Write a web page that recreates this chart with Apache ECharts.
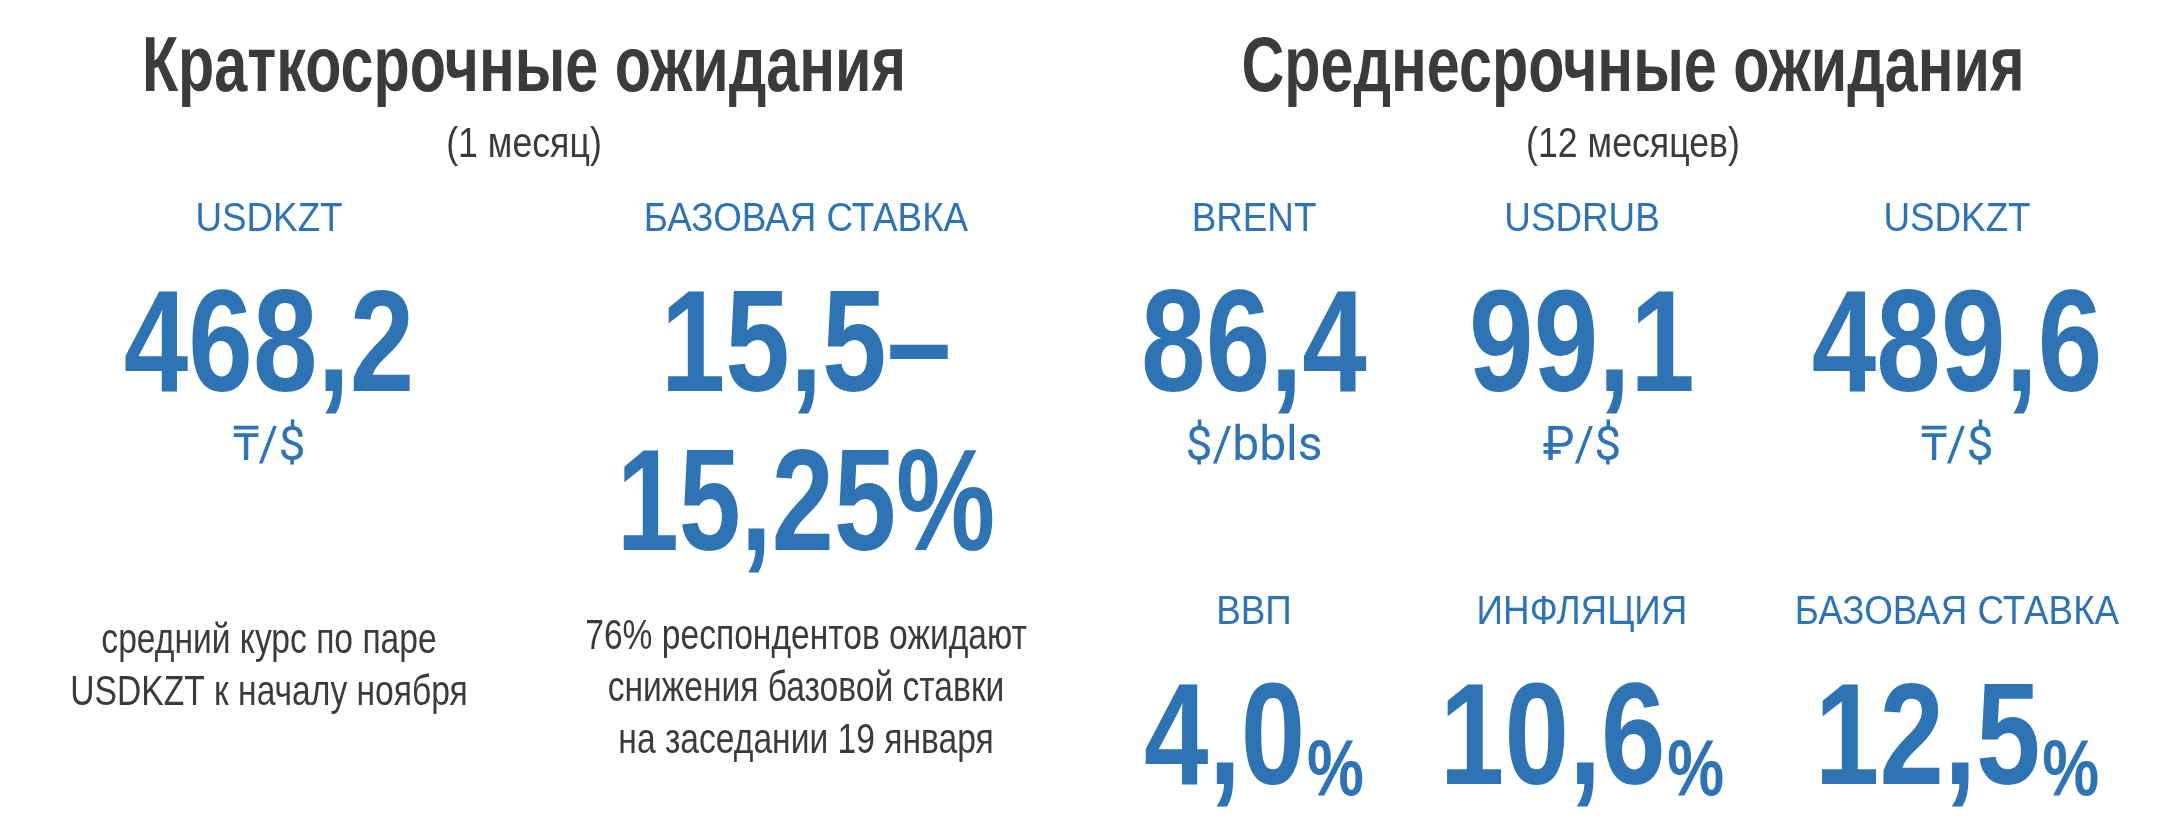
<!DOCTYPE html>
<html><head><meta charset="utf-8">
<script src="https://cdn.jsdelivr.net/npm/echarts@6/dist/echarts.min.js"></script>
<style>html,body{margin:0;padding:0;background:#fff}#c{width:2160px;height:822px}</style>
</head><body><div id="c"></div>
<script>
const titles = ['Краткосрочные ожидания','Среднесрочные ожидания'];
const subtitles = ['(1 месяц)','(12 месяцев)'];
const shortLabels = ['USDKZT','БАЗОВАЯ СТАВКА'];
const shortValues = ['468,2','15,5–'];
const shortValues2 = ['','15,25%'];
const shortUnits = ['₸/$',''];
const shortNotes = [['средний курс по паре','USDKZT к началу ноября'],['76% респондентов ожидают','снижения базовой ставки','на заседании 19 января']];
const midLabels1 = ['BRENT','USDRUB','USDKZT'];
const midValues1 = ['86,4','99,1','489,6'];
const midUnits1 = ['$/bbls','₽/$','₸/$'];
const midLabels2 = ['ВВП','ИНФЛЯЦИЯ','БАЗОВАЯ СТАВКА'];
const midValues2 = ['4,0','10,6','12,5'];

const BLUE='#2e74b5', DARK='#3b3b3b';
const FONT='"Liberation Sans",Arial,sans-serif';
const el=[];
function t(x,y,text,size,color,weight,sx,family){
  el.push({type:'text',x:x,y:y,scaleX:sx||1,style:{text:text,fontSize:size,fill:color,fontWeight:weight||'normal',fontFamily:family||FONT,textAlign:'center',textVerticalAlign:'middle'}});
}
const tx=[524,1633];
titles.forEach((s,i)=>t(tx[i],69,s,78,DARK,'bold',0.76));
subtitles.forEach((s,i)=>t(tx[i],145,s,42,DARK,'normal',0.85));
const sx=[269,806];
shortLabels.forEach((s,i)=>t(sx[i],220,s,40,BLUE,'normal',0.92));
shortValues.forEach((s,i)=>t(sx[i],351,s,145,BLUE,'bold',0.8));
shortValues2.forEach((s,i)=>{if(s)t(sx[i],510,s,145,BLUE,'bold',0.77);});
shortUnits.forEach((s,i)=>{if(s)t(sx[i],448,s,48,BLUE,'normal',1,'Roboto,sans-serif');});
shortNotes.forEach((lines,i)=>{
  const y0 = i===0?641:637;
  lines.forEach((l,j)=>t(sx[i],y0+j*52,l,42,DARK,'normal',0.8));
});
const mx=[1254,1582,1957];
midLabels1.forEach((s,i)=>t(mx[i],220,s,40,BLUE,'normal',0.92));
midValues1.forEach((s,i)=>t(mx[i],351,s,145,BLUE,'bold',0.8));
midUnits1.forEach((s,i)=>t(mx[i],448,s,48,BLUE,'normal',1,'Roboto,sans-serif'));
midLabels2.forEach((s,i)=>t(mx[i],613,s,40,BLUE,'normal',0.92));
midValues2.forEach((s,i)=>{
  el.push({type:'text',x:mx[i],y:744,scaleX:0.8,style:{
    text:'{a|'+s+'}{b|%}',textAlign:'center',textVerticalAlign:'middle',
    rich:{a:{fontSize:145,fontWeight:'bold',fontFamily:FONT,fill:BLUE,verticalAlign:'bottom'},
          b:{fontSize:80,fontWeight:'bold',fontFamily:FONT,fill:BLUE,verticalAlign:'bottom',padding:[0,0,4,2]}}
  }});
});
const chart=echarts.init(document.getElementById('c'));
chart.setOption({backgroundColor:'#fff',graphic:{elements:el}});
</script></body></html>
